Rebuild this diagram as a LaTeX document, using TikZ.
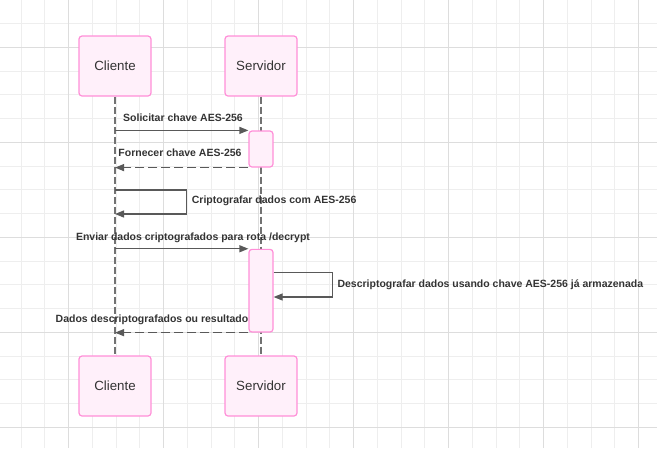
\documentclass[tikz,border=0pt]{standalone}
\usepackage{fontspec}
\setmainfont{Liberation Sans}
\usetikzlibrary{arrows.meta}
\definecolor{pinkfill}{HTML}{FFF0FA}
\definecolor{pinkline}{HTML}{FF8FD8}
\definecolor{inkgrey}{HTML}{333333}
\definecolor{wiregrey}{HTML}{595959}
\definecolor{gridminor}{HTML}{EEEEEE}
\definecolor{gridmajor}{HTML}{DDDDDD}
\tikzset{
  actor/.style={draw=pinkline, fill=pinkfill, rounded corners=3pt, line width=1.2pt,
    minimum width=72pt, minimum height=60pt, text=inkgrey,
    font=\fontsize{13.3}{15}\selectfont},
  activation/.style={draw=pinkline, fill=pinkfill, rounded corners=3pt, line width=1.2pt,
    minimum width=24pt, inner sep=0pt},
  lifeline/.style={draw=wiregrey!85, line width=1.2pt, dash pattern=on 7pt off 3pt},
  msg/.style={draw=wiregrey, line width=1.2pt, -{Triangle[length=9pt,width=7pt]}},
  reply/.style={msg, dash pattern=on 9pt off 4pt},
  msglabel/.style={text=inkgrey, font=\fontsize{10.5}{12}\bfseries\selectfont,
    inner sep=0pt, text height=8pt, text depth=2pt}
}
\begin{document}
\begin{tikzpicture}[x=1pt, y=-1pt]
  \useasboundingbox (0,0) rectangle (657,448);

  % background grid
  \foreach \i in {0,...,28}
    \draw[gridminor, line width=0.9pt] ({-2.75+23.75*\i},0) -- ++(0,448);
  \foreach \j in {0,...,19}
    \draw[gridminor, line width=0.9pt] (0,{-0.2+23.75*\j}) -- ++(657,0);
  \foreach \i in {0,...,7}
    \draw[gridmajor, line width=1pt] ({-26.5+95*\i},0) -- ++(0,448);
  \foreach \j in {0,...,4}
    \draw[gridmajor, line width=1pt] (0,{47.3+95*\j}) -- ++(657,0);

  % actors
  \node[actor] (cliTop) at (115,66) {Cliente};
  \node[actor] (srvTop) at (261,66) {Servidor};
  \node[actor] (cliBot) at (115,386) {Cliente};
  \node[actor] (srvBot) at (261,386) {Servidor};

  % lifelines
  \draw[lifeline] (cliTop.south) -- (cliBot.north);
  \draw[lifeline] (srvTop.south) -- (srvBot.north);

  % activations
  \node[activation, minimum height=36pt] (act1) at (261,149) {};
  \node[activation, minimum height=82.7pt] (act2) at (261,290.7) {};

  % messages
  \draw[msg] (cliTop |- act1.north) -- (act1.north west);
  \node[msglabel] (lab1) at (183,118.5) {Solicitar chave AES-256};

  \draw[reply] (act1.south west) -- (cliTop |- act1.south);
  \node[msglabel] (lab2) at (180,153.5) {Fornecer chave AES-256};

  \coordinate (cliLoopA) at (115,190);
  \coordinate (cliLoopB) at (115,214);
  \draw[msg] (cliLoopA) -- (186.7,190) -- (186.7,214) -- (cliLoopB);
  \node[msglabel, anchor=west] (lab3) at (191.7,200.7) {Criptografar dados com AES-256};

  \draw[msg] (cliTop |- act2.north) -- (act2.north west);
  \node[msglabel] (lab4) at (193,237.3) {Enviar dados criptografados para rota /decrypt};

  \coordinate (srvLoopA) at (act2.east |- 0,272.3);
  \coordinate (srvLoopB) at (act2.east |- 0,297);
  \draw[msg] (srvLoopA) -- (332.7,272.3) -- (332.7,297) -- (srvLoopB);
  \node[msglabel, anchor=west] (lab5) at (337.3,284) {Descriptografar dados usando chave AES-256 já armazenada};

  \draw[reply] (act2.south west) -- (cliTop |- act2.south);
  \node[msglabel] (lab6) at (152,319.3) {Dados descriptografados ou resultado};
\end{tikzpicture}
\end{document}
